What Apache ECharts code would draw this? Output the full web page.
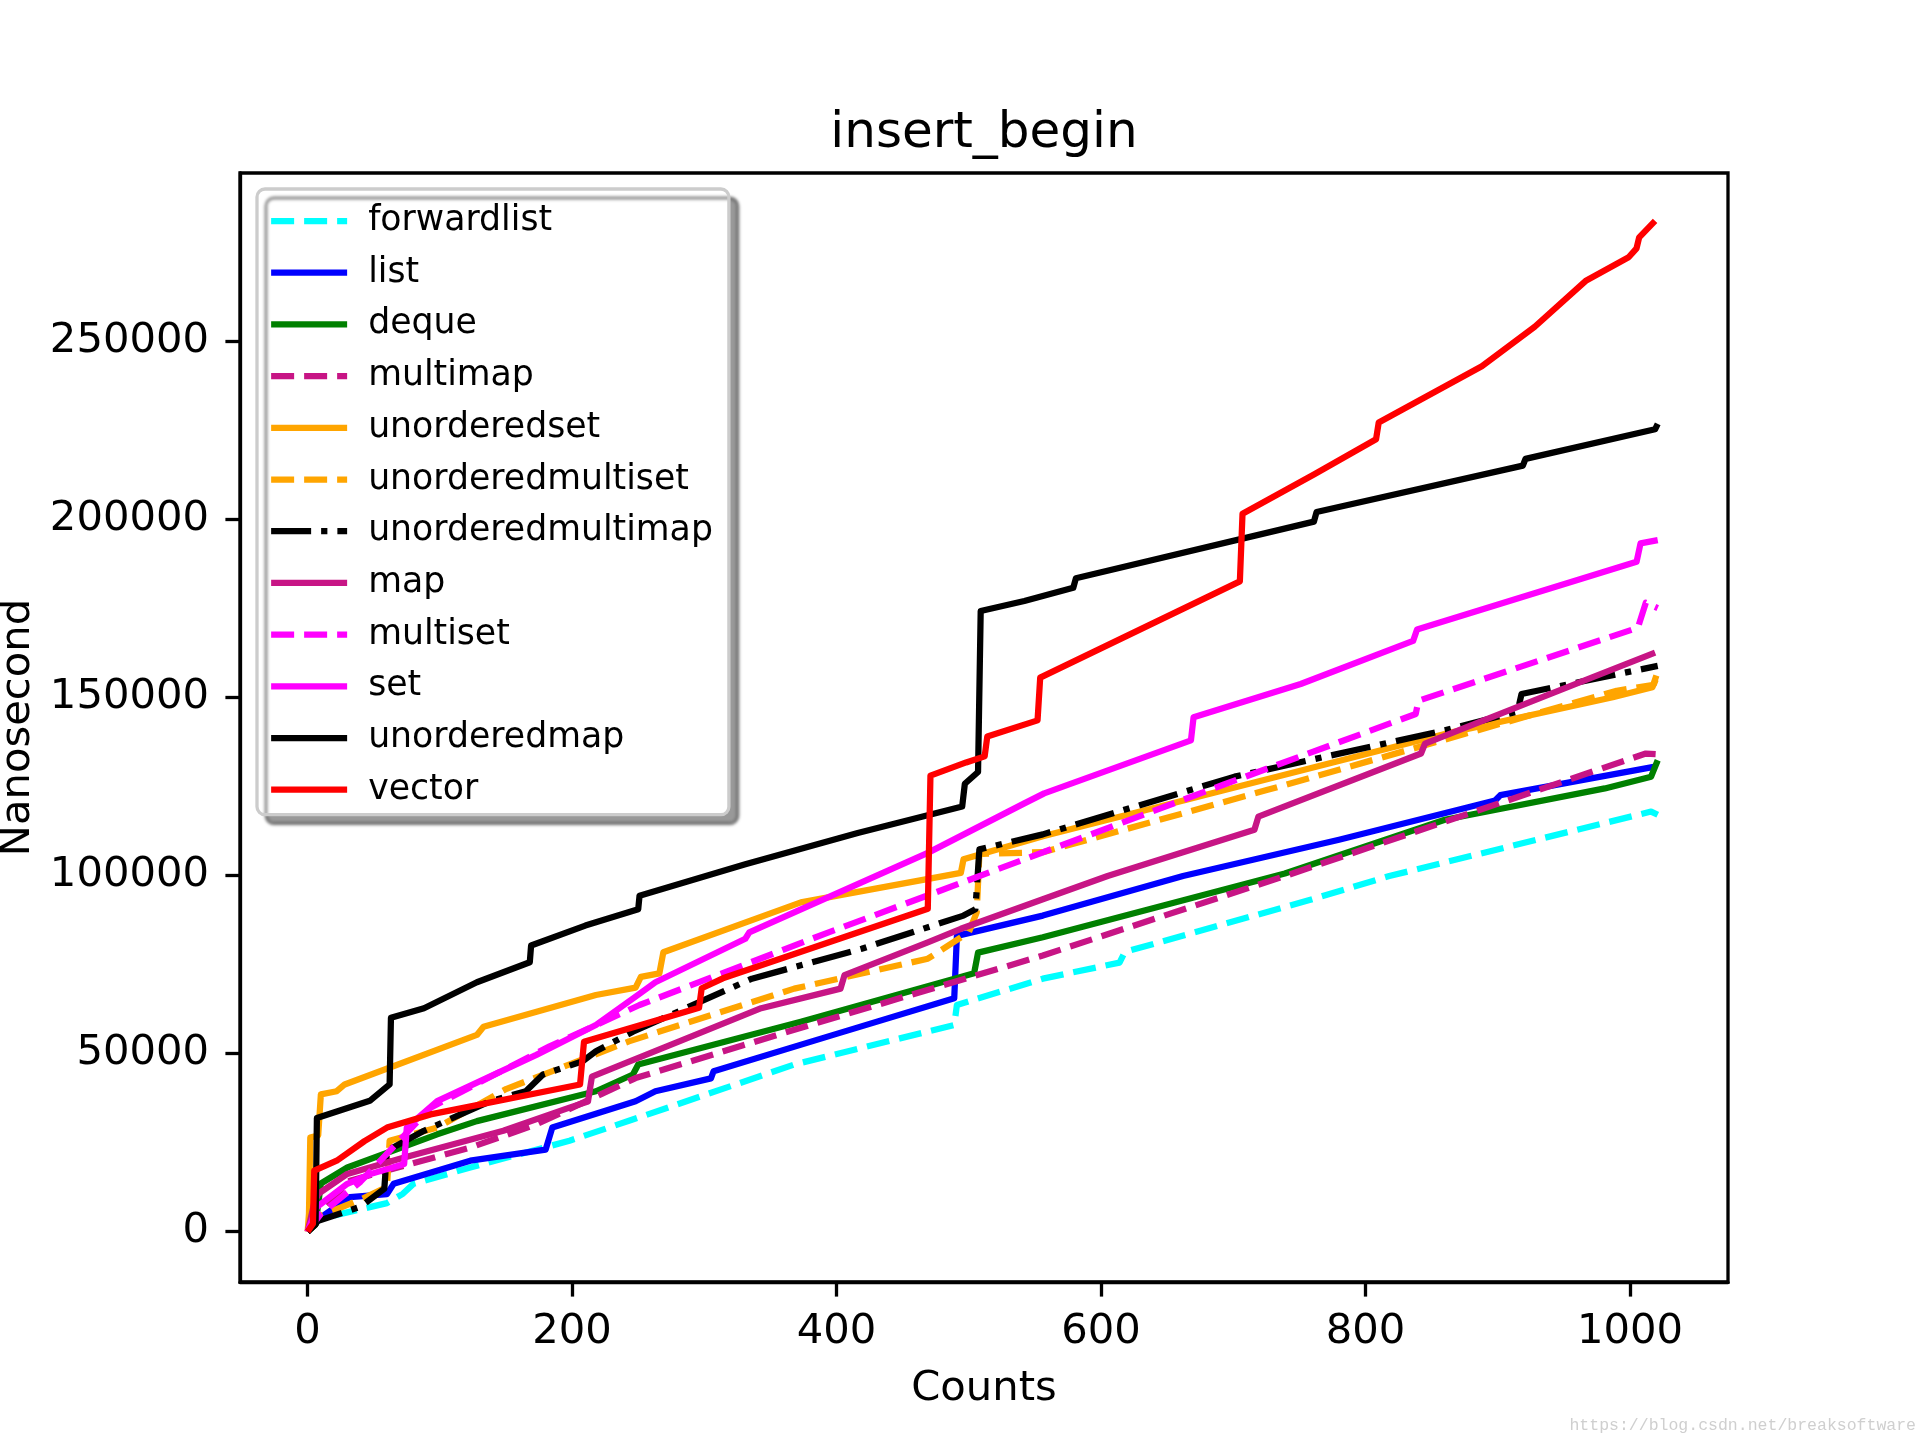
<!DOCTYPE html>
<html>
<head>
<meta charset="utf-8">
<title>insert_begin</title>
<script src="https://cdn.jsdelivr.net/npm/echarts@6/dist/echarts.min.js"></script>
<style>
  html, body { margin: 0; padding: 0; background: #fff; }
  #chart { width: 1920px; height: 1440px; }
</style>
</head>
<body>
<div id="chart"></div>
<script>
// container names, in legend order
const names = ['forwardlist', 'list', 'deque', 'multimap', 'unorderedset', 'unorderedmultiset',
  'unorderedmultimap', 'map', 'multiset', 'set', 'unorderedmap', 'vector'];

// [count, nanosecond] points
const forwardlist = [[0,0],[8,3500],[60,8000],[72,10600],[80,13400],[123,18000],[198,25500],[243,31100],
  [368,46900],[489,58000],[491,63600],[556,71000],[614,75500],[618,78500],[757,93000],[818,99800],[1016,117900],[1021,117000]];
const list = [[0,0],[10,4000],[32,9700],[60,10500],[65,13400],[123,19900],[180,23000],[185,29200],[248,36600],
  [263,39400],[305,43000],[307,45000],[400,55500],[489,65500],[491,83000],[556,88700],[662,99800],[780,110000],
  [898,121000],[902,122500],[1019,130500]];
const deque = [[0,0],[6,2000],[10,13500],[30,18000],[98,27300],[128,31000],[218,39400],[246,44100],[250,46900],
  [373,58900],[504,72500],[507,78300],[556,82600],[739,100500],[860,115600],[981,124400],[1016,127700],[1021,132300]];
const multimap = [[0,0],[10,6000],[32,14300],[123,23600],[173,30100],[248,43100],[380,58000],[556,77500],
  [739,99800],[1012,134200],[1021,134000]];
const unorderedset = [[0,0],[1,5000],[2,26400],[8,27000],[10,38500],[22,39400],[28,41300],[128,55200],[133,57500],
  [218,66400],[248,68500],[252,71500],[266,72500],[269,78400],[373,92400],[494,100700],[496,104500],[556,111000],
  [860,139700],[987,150000],[1017,152800],[1020,156100]];
const unorderedmultiset = [[0,0],[10,4500],[40,9000],[60,12500],[62,25500],[98,29200],[150,40000],[243,53400],
  [368,68200],[469,76600],[500,84000],[506,89600],[508,106000],[556,106500],[726,124000],[990,151800],[1018,153500],[1021,156500]];
const unorderedmultimap = [[0,0],[8,3000],[40,7000],[58,12000],[60,22700],[88,28300],[138,36600],[165,39400],
  [178,44100],[208,47800],[218,50600],[246,56100],[336,71000],[419,79400],[496,88700],[505,90500],[508,107300],
  [556,111500],[701,127700],[860,140700],[915,146000],[918,150900],[1021,158800]];
const map = [[0,0],[5,8000],[8,10600],[30,16200],[73,20800],[148,28300],[198,34800],[212,36500],[215,43500],
  [281,53400],[343,62700],[403,68200],[406,72000],[469,81200],[494,85000],[556,93300],[605,99800],[716,112800],
  [719,116500],[842,134200],[845,137000],[971,155500],[1019,162500]];
const multiset = [[0,0],[10,5000],[40,14000],[93,34800],[183,52000],[251,63600],[394,84000],[542,104500],
  [693,125500],[838,145300],[840,149000],[1006,169500],[1012,176500],[1021,175000]];
const set = [[0,0],[7,6900],[30,13400],[48,16200],[73,19000],[75,29200],[98,36600],[173,49600],[218,58000],
  [250,66500],[263,70000],[331,82200],[334,84000],[469,106300],[542,120200],[557,123000],[668,137900],[670,144400],
  [751,153700],[836,165800],[839,169000],[1005,188000],[1008,193200],[1021,194100]];
const unorderedmap = [[0,0],[6,2000],[7,31900],[47,36700],[62,41300],[63,60000],[88,62700],[128,70000],
  [168,75600],[169,80300],[210,85900],[250,90500],[251,94300],[331,103100],[416,111900],[495,119300],[497,125700],
  [507,129000],[509,174200],[542,177000],[579,180700],[581,183400],[761,199300],[763,202000],[919,215000],
  [921,216900],[1019,225200],[1021,226700]];
const vector = [[0,0],[4,2200],[5,17100],[22,19900],[43,25400],[60,29200],[93,32900],[206,41300],[209,53300],
  [261,59000],[296,62800],[298,68300],[314,71100],[469,90600],[471,128000],[498,131700],[512,133400],[514,139000],
  [552,143500],[554,155500],[705,182500],[707,201500],[761,212500],[808,222400],[810,227100],[888,242900],
  [928,254000],[967,267000],[999,273500],[1005,276000],[1007,279100],[1019,283700]];

const xTicks = [0, 200, 400, 600, 800, 1000];
const yTicks = [0, 50000, 100000, 150000, 200000, 250000];

const seriesData = [forwardlist, list, deque, multimap, unorderedset, unorderedmultiset,
  unorderedmultimap, map, multiset, set, unorderedmap, vector];
const colors = ['#00ffff', '#0000ff', '#008000', '#c71585', '#ffa500', '#ffa500',
  '#000000', '#c71585', '#ff00ff', '#ff00ff', '#000000', '#ff0000'];
const dashed = [23, 10];
const dashDot = [40, 10, 6.25, 10];
const styles = [dashed, 'solid', 'solid', dashed, 'solid', dashed, dashDot, 'solid', dashed, 'solid', 'solid', 'solid'];

const FONT = 'DejaVu Sans';
const chart = echarts.init(document.getElementById('chart'));

chart.setOption({
  animation: false,
  backgroundColor: '#fff',
  textStyle: { fontFamily: FONT },
  graphic: [
    {
      type: 'text', x: 984, y: 134,
      style: { text: 'insert_begin', fontSize: 50, fontFamily: FONT, fill: '#000',
        align: 'center', verticalAlign: 'middle' }
    },
    {
      type: 'text', x: 1916, y: 1426,
      style: { text: 'https://blog.csdn.net/breaksoftware', fontSize: 16.5, fontFamily: 'Liberation Mono',
        fill: '#cfcfcf', align: 'right', verticalAlign: 'middle' }
    }
  ],
  grid: {
    left: 240, right: 192, top: 173, bottom: 158,
    containLabel: false, outerBoundsMode: 'none',
    show: true, borderColor: '#000', borderWidth: 3.3, backgroundColor: 'transparent'
  },
  legend: {
    orient: 'vertical',
    left: 257, top: 189,
    padding: [11, 16, 4, 11],
    itemWidth: 76, itemHeight: 20, itemGap: 9.7,
    backgroundColor: '#ffffff',
    borderColor: '#cccccc', borderWidth: 3.3, borderRadius: 8,
    shadowColor: 'rgba(0,0,0,0.4)', shadowBlur: 3, shadowOffsetX: 9, shadowOffsetY: 9,
    itemStyle: { opacity: 0 },
    lineStyle: { width: 6.25 },
    textStyle: { fontSize: 34.7, fontFamily: FONT, color: '#000', lineHeight: 42, padding: [0, 0, 0, 16] },
    data: names
  },
  xAxis: {
    type: 'value',
    min: -51.15, max: 1074.15,
    name: 'Counts', nameLocation: 'middle', nameGap: 86,
    nameTextStyle: { fontSize: 41.7, fontFamily: FONT, color: '#000' },
    axisLine: { show: true, onZero: false, lineStyle: { color: '#000', width: 3.3 } },
    axisTick: { show: true, length: 14.6, lineStyle: { color: '#000', width: 3.3 }, customValues: xTicks },
    axisLabel: { fontSize: 41.7, fontFamily: FONT, color: '#000', margin: 29, customValues: xTicks,
      formatter: v => String(v) },
    splitLine: { show: false }
  },
  yAxis: {
    type: 'value',
    min: -14150, max: 297150,
    name: 'Nanosecond', nameLocation: 'middle', nameGap: 198, nameRotate: 90,
    nameTextStyle: { fontSize: 41.7, fontFamily: FONT, color: '#000' },
    axisLine: { show: true, onZero: false, lineStyle: { color: '#000', width: 3.3 } },
    axisTick: { show: true, length: 14.6, lineStyle: { color: '#000', width: 3.3 }, customValues: yTicks },
    axisLabel: { fontSize: 41.7, fontFamily: FONT, color: '#000', margin: 31, customValues: yTicks,
      formatter: v => String(v) },
    splitLine: { show: false }
  },
  series: names.map((name, i) => ({
    name: name,
    type: 'line',
    data: seriesData[i],
    symbol: 'none',
    showSymbol: false,
    color: colors[i],
    lineStyle: { color: colors[i], width: 6.25, type: styles[i], cap: 'butt', join: 'round' },
    emphasis: { disabled: true },
    z: 2 + i
  }))
});
</script>
</body>
</html>
